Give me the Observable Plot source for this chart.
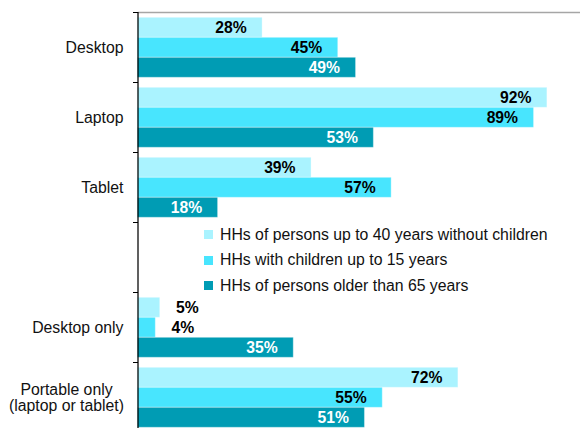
<!DOCTYPE html>
<html>
<head>
<meta charset="utf-8">
<script src="https://cdn.jsdelivr.net/npm/d3@7"></script>
<script src="https://cdn.jsdelivr.net/npm/@observablehq/plot@0.6"></script>
<style>
  html, body { margin: 0; padding: 0; background: #fff; overflow: hidden; }
  #wrap { position: relative; width: 580px; height: 428px; font-family: "Liberation Sans", Arial, sans-serif; }
  #legend { position: absolute; left: 204px; top: 222px; font-size: 15.8px; color: #111; }
  #legend .row { display: flex; align-items: center; height: 25.5px; white-space: nowrap; }
  #legend .sw { width: 9px; height: 9px; margin-right: 7px; flex: none; }
</style>
</head>
<body>
<div id="wrap"><div id="legend"></div></div>
<script>
// ---- data ----
const categories = ["Desktop", "Laptop", "Tablet", "", "Desktop only", "Portable only\n(laptop or tablet)"];
const seriesNames = [
  "HHs of persons up to 40 years without children",
  "HHs with children up to 15 years",
  "HHs of persons older than 65 years"
];
const young    = [28, 92, 39, null, 5, 72];
const children = [45, 89, 57, null, 4, 55];
const older    = [49, 53, 18, null, 35, 51];

// ---- styles ----
const colors = ["#aaf3ff", "#48e5fe", "#009cb4"];
const labelColors = ["#000", "#000", "#fff"];
const seriesValues = [young, children, older];
const insets = [[5.3, 44.7], [25.3, 24.7], [45.3, 4.7]];
const labelDy = [-20, 0, 20];
const FONT = "Liberation Sans, Arial, sans-serif";

const rows = (vals) => categories.map((c, i) => ({cat: c, v: vals[i]})).filter(d => d.v != null);

const marks = [];
seriesValues.forEach((vals, s) => {
  const data = rows(vals);
  marks.push(Plot.barX(data, {
    x: "v", y: "cat", fill: colors[s],
    insetTop: insets[s][0], insetBottom: insets[s][1],
    stroke: "#fff", strokeOpacity: 0.35, strokeWidth: 1
  }));
  marks.push(Plot.text(data.filter(d => d.v >= 10), {
    x: "v", y: "cat", text: d => d.v + "%", textAnchor: "end", dx: -16, dy: labelDy[s],
    fill: labelColors[s], fontWeight: "bold", fontSize: 15.7, fontFamily: FONT
  }));
  marks.push(Plot.text(data.filter(d => d.v < 10), {
    x: "v", y: "cat", text: d => d.v + "%", textAnchor: "end", dx: 38.5, dy: labelDy[s],
    fill: "#000", fontWeight: "bold", fontSize: 15.7, fontFamily: FONT
  }));
});

const portable = categories[5];
const plot = Plot.plot({
  width: 580,
  height: 428,
  marginTop: 12,
  marginBottom: 0,
  marginLeft: 138,
  marginRight: 0,
  style: {fontFamily: FONT, background: "#fff", overflow: "hidden"},
  x: {domain: [0, 100], range: [137.5, 582.5], axis: null},
  y: {domain: categories, range: [12, 432], padding: 0, axis: null},
  marks: [
    ...marks,
    Plot.frame({anchor: "top", stroke: "#a6a6a6", strokeWidth: 1.5}),
    Plot.ruleX([0], {stroke: "#000", strokeWidth: 1.25}),
    Plot.axisY({anchor: "left", label: null, tickSize: 5, dy: -35, tickFormat: () => "", stroke: "#000"}),
    Plot.axisY({anchor: "left", label: null, ticks: categories.filter(c => c && c !== portable), tickSize: 0, tickPadding: 15,
      fontSize: 15.8, fill: "#111", fontFamily: FONT}),
    Plot.axisY({anchor: "left", label: null, ticks: [portable], tickSize: 0, tickPadding: 15, textAnchor: "middle", dx: -57,
      lineHeight: 1.05, fontSize: 15.8, fill: "#111", fontFamily: FONT})
  ]
});
const wrap = document.getElementById("wrap");
wrap.insertBefore(plot, wrap.firstChild);

const legend = document.getElementById("legend");
seriesNames.forEach((n, i) => {
  const r = document.createElement("div");
  r.className = "row";
  r.innerHTML = `<span class="sw" style="background:${colors[i]}"></span><span>${n}</span>`;
  legend.appendChild(r);
});
</script>
</body>
</html>
